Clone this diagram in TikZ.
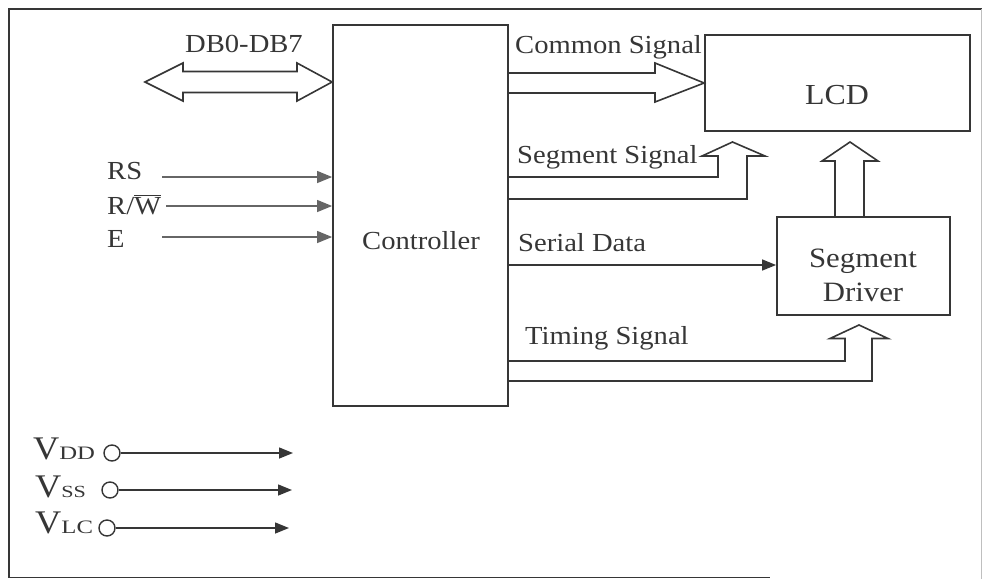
\documentclass[tikz,border=0pt]{standalone}
\usepackage{fontspec}
\setmainfont{Liberation Serif}[FakeStretch=1.1]
\newfontfamily\subfont{Liberation Serif}[FakeStretch=1.3]
\usetikzlibrary{arrows.meta}

\definecolor{ink}{HTML}{363636}
\definecolor{faint}{HTML}{666666}

\begin{document}
\begin{tikzpicture}[x=1pt,y=-1pt,
  every node/.style={inner sep=0pt, text=ink},
  box/.style={draw=ink, line width=1.8pt, inner sep=0pt},
  txt/.style={font=\fontsize{26}{30}\selectfont},
  lbl/.style={txt, anchor=base west},
  wide/.style={draw=ink, line width=1.6pt, line join=miter},
  sig/.style={draw=ink, line width=1.4pt, -{Triangle[length=14pt,width=11pt]}},
  ctl/.style={draw=faint, line width=1.2pt, -{Triangle[length=15pt,width=12pt]}},
  port/.style={circle, draw=ink, line width=1.4pt, minimum size=16pt},
]
\useasboundingbox (0,0) rectangle (982,579);

% outer frame
\draw[ink, line width=1.8pt] (982,9) -- (9,9) -- (9,577.5) -- (770,577.5);
\draw[black!25, line width=0.8pt] (981,9) -- (981,579);

% blocks
\node[box, minimum width=175pt, minimum height=381pt] (ctrl) at (420.5,215.5) {};
\node[box, minimum width=265pt, minimum height=96pt]  (lcd)  at (837.5,83) {};
\node[box, minimum width=173pt, minimum height=98pt]  (drv)  at (863.5,266) {};

\node[txt, anchor=base] (ctrltxt) at (421,249) {Controller};
\node[font=\fontsize{29}{32}\selectfont, anchor=base] (lcdtxt) at (837,104) {LCD};
\node[font=\fontsize{28}{32}\selectfont, anchor=base] (drvtxt1) at (863,267) {Segment};
\node[font=\fontsize{28}{32}\selectfont, anchor=base] (drvtxt2) at (863,301) {Driver};

% levels used by the bus arrows
\coordinate (dbY) at (0,82);
\coordinate (comY) at (0,83);
\coordinate (comA) at (0,73);
\coordinate (comB) at (0,93);
\coordinate (segA) at (0,177);
\coordinate (segB) at (0,199);
\coordinate (timA) at (0,361);
\coordinate (timB) at (0,381);
\coordinate (upL) at (835,0);
\coordinate (upR) at (864,0);

% data bus
\node[txt, anchor=base] (dbtxt) at (244,52) {DB0-DB7};
\draw[wide] (145,82) -- (183,63) -- (183,71.5) -- (297,71.5) -- (297,63)
  -- (ctrl.west |- dbY) -- (297,101) -- (297,92.5) -- (183,92.5) -- (183,101) -- cycle;

% common signal
\node[lbl] (comtxt) at (515,53) {Common Signal};
\draw[wide] (ctrl.east |- comA) -- (655,73) -- (655,63) -- (lcd.west |- comY)
  -- (655,102) -- (655,93) -- (ctrl.east |- comB);

% segment signal
\node[lbl] (segtxt) at (517,163) {Segment Signal};
\draw[wide] (ctrl.east |- segA) -- (718,177) -- (718,156) -- (702,156) -- (732.5,142)
  -- (765,156) -- (747,156) -- (747,199) -- (ctrl.east |- segB);

% segment driver to LCD
\draw[wide] (upL |- drv.north) -- (835,161) -- (822,161) -- (850,142)
  -- (878,161) -- (864,161) -- (upR |- drv.north);

% serial data
\node[lbl] (sertxt) at (518,251) {Serial Data};
\coordinate (serY) at (0,265);
\draw[sig] (ctrl.east |- serY) -- (drv.west |- serY);

% timing signal
\node[lbl] (timtxt) at (525,344) {Timing Signal};
\draw[wide] (ctrl.east |- timA) -- (845,361) -- (845,338.5) -- (830,338.5) -- (859,325)
  -- (888,338.5) -- (872,338.5) -- (872,381) -- (ctrl.east |- timB);

% control inputs
\node[lbl] (rs) at (107,179) {RS};
\node[lbl] (rw) at (107,214) {R/$\overline{\mbox{W}}$};
\node[lbl] (en) at (107,247) {E};
\coordinate (rsS) at (162,177);
\coordinate (rwS) at (166,206);
\coordinate (enS) at (162,237);
\draw[ctl] (rsS) -- (rsS -| ctrl.west);
\draw[ctl] (rwS) -- (rwS -| ctrl.west);
\draw[ctl] (enS) -- (enS -| ctrl.west);

% supply pins
\node[anchor=base west] (vdd) at (33,459)
  {\fontsize{33}{36}\selectfont V\subfont\fontsize{19}{20}\selectfont DD};
\node[anchor=base west] (vss) at (35,497)
  {\fontsize{33}{36}\selectfont V\subfont\fontsize{17}{20}\selectfont SS};
\node[anchor=base west] (vlc) at (35,533)
  {\fontsize{33}{36}\selectfont V\subfont\fontsize{19}{20}\selectfont LC};
\node[port] (pdd) at (112,453) {};
\node[port] (pss) at (110,490) {};
\node[port] (plc) at (107,528) {};
\coordinate (edd) at (293,453);
\coordinate (ess) at (292,490);
\coordinate (elc) at (289,528);
\draw[sig] (pdd.east) -- (edd);
\draw[sig] (pss.east) -- (ess);
\draw[sig] (plc.east) -- (elc);
\end{tikzpicture}
\end{document}
